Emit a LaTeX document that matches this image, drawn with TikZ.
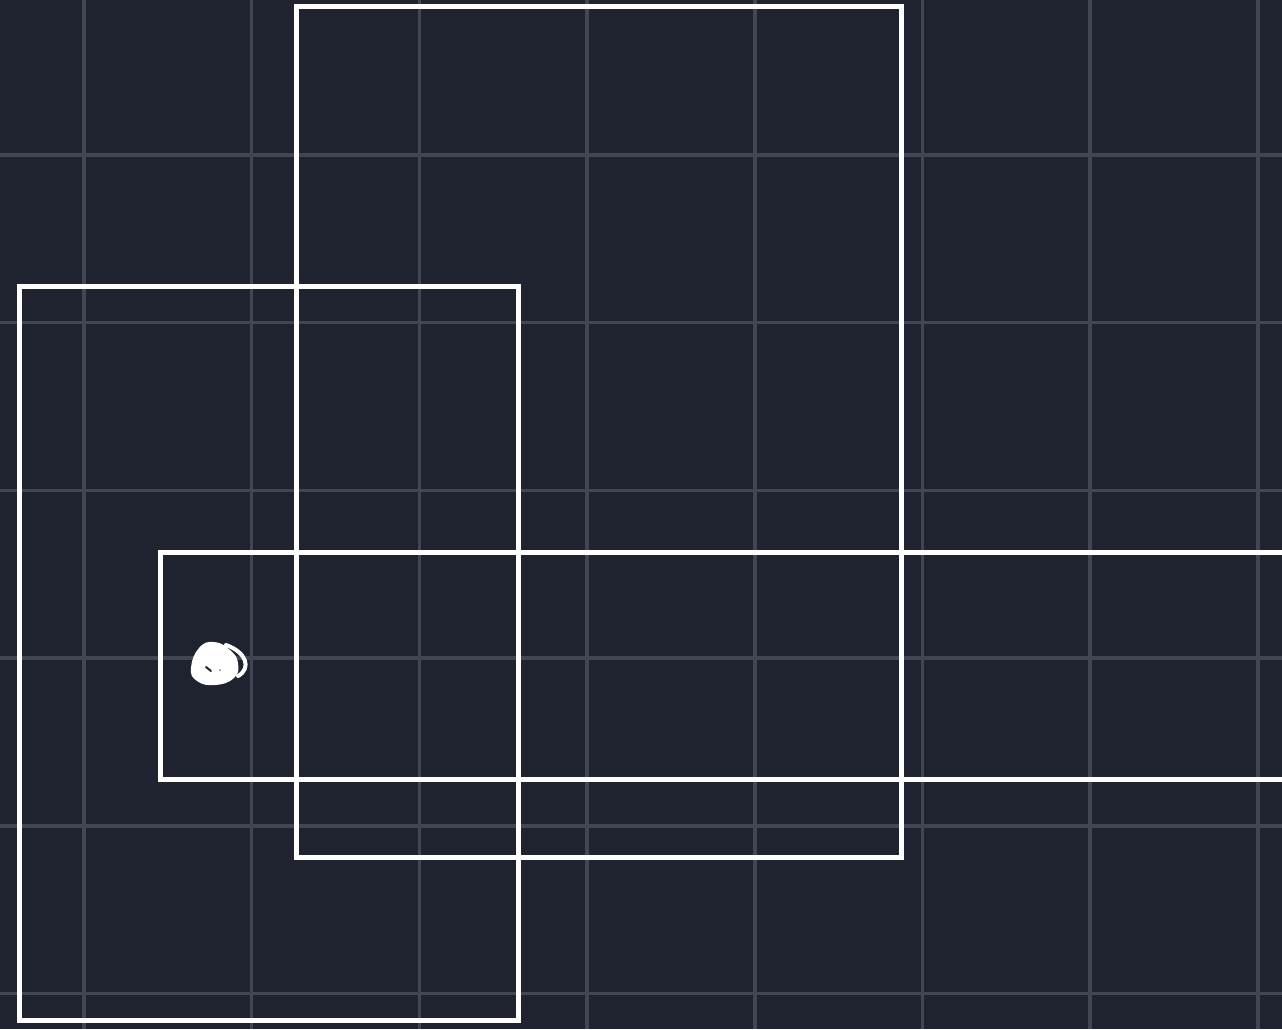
\documentclass[tikz,border=0pt]{standalone}
\definecolor{bgc}{RGB}{31,35,48}
\definecolor{gridc}{RGB}{66,70,82}
\tikzset{
  gridline/.style={draw=gridc, line width=3.5pt},
  frame/.style={draw=white, line width=5pt, line join=miter},
}
\begin{document}
\begin{tikzpicture}[x=1pt,y=-1pt]
\fill[bgc] (0,0) rectangle (1282,1029);
\useasboundingbox (0,0) rectangle (1282,1029);
\begin{scope}
\clip (0,0) rectangle (1282,1029);
\foreach \i in {0,...,7} \draw[gridline] ({84+167.7*\i},0) -- ({84+167.7*\i},1029);
\foreach \j in {0,...,5} \draw[gridline] (0,{155+167.7*\j}) -- (1282,{155+167.7*\j});
\draw[frame] (296,6) rectangle (901,857);
\draw[frame] (19,286) rectangle (518,1020);
\draw[frame] (160,552) rectangle (1300,779);
% blob
\fill[white] plot[smooth cycle, tension=0.8] coordinates {(199,648) (214,642) (230,650) (238,663) (234,678) (215,685) (197,681) (191,668)};
\draw[white, line width=4pt, line cap=round] (226,645) .. controls (246,652) and (252,668) .. (238,676);
\draw[bgc, line width=2pt, line cap=round] (206,667) -- (211,671);
\fill[bgc!60!white] (220,670) circle [radius=1];
\end{scope}
\end{tikzpicture}
\end{document}
